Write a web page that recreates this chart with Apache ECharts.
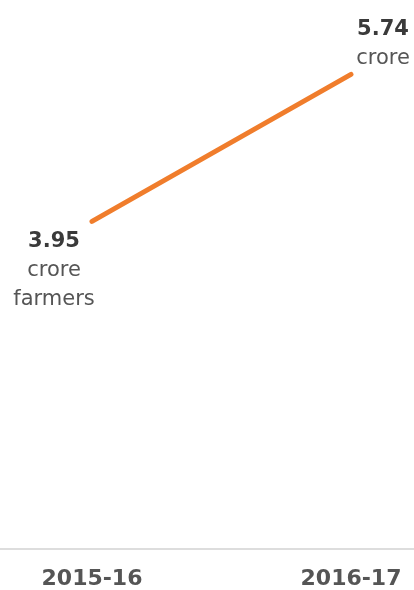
<!DOCTYPE html>
<html><head><meta charset="utf-8">
<script src="https://cdn.jsdelivr.net/npm/echarts@6/dist/echarts.min.js"></script>
<style>html,body{margin:0;padding:0;background:#fff}#c{width:414px;height:590px}</style>
</head><body><div id="c"></div>
<script>
const categories = ['2015-16', '2016-17'];
const values = [3.95, 5.74];
const valueLabels = ['3.95', '5.74'];
const unitLabels = ['crore\nfarmers', 'crore'];

const FONT = '"DejaVu Sans", sans-serif';
const chart = echarts.init(document.getElementById('c'));
const labelOffsets = [[-38, 49], [32, -30]];
chart.setOption({
  animation: false,
  grid: [
    { left: 0, right: 0, top: 53, bottom: 41 },
    { left: 92, right: 63, top: 53, bottom: 41 }
  ],
  xAxis: [
    { gridIndex: 0, type: 'category', data: categories, boundaryGap: true,
      axisLine: { lineStyle: { color: '#dddddd', width: 2 } },
      axisTick: { show: false }, axisLabel: { show: false } },
    { gridIndex: 1, type: 'category', data: categories, boundaryGap: false,
      axisLine: { show: false }, axisTick: { show: false },
      axisLabel: { margin: 22, fontSize: 22, fontWeight: 'bold', color: '#555555', fontFamily: FONT } }
  ],
  yAxis: [
    { gridIndex: 0, type: 'value', min: 0, max: 6, show: false },
    { gridIndex: 1, type: 'value', min: 0, max: 6, show: false }
  ],
  series: [{
    type: 'line', xAxisIndex: 1, yAxisIndex: 1,
    data: values.map((v, i) => ({
      value: v,
      label: {
        show: true, position: 'inside', offset: labelOffsets[i],
        align: 'center', verticalAlign: 'middle',
        formatter: '{a|' + valueLabels[i] + '}\n' + unitLabels[i].split('\n').map(s => '{b|' + s + '}').join('\n'),
        rich: {
          a: { fontSize: 21, fontWeight: 'bold', color: '#3a3a3a', fontFamily: FONT, lineHeight: 29, align: 'center' },
          b: { fontSize: 21, color: '#555555', fontFamily: FONT, lineHeight: 29, align: 'center' }
        }
      }
    })),
    symbol: 'circle', symbolSize: 1,
    itemStyle: { color: '#f07d2c' },
    lineStyle: { color: '#f07d2c', width: 5, cap: 'round' }
  }]
});
</script></body></html>
